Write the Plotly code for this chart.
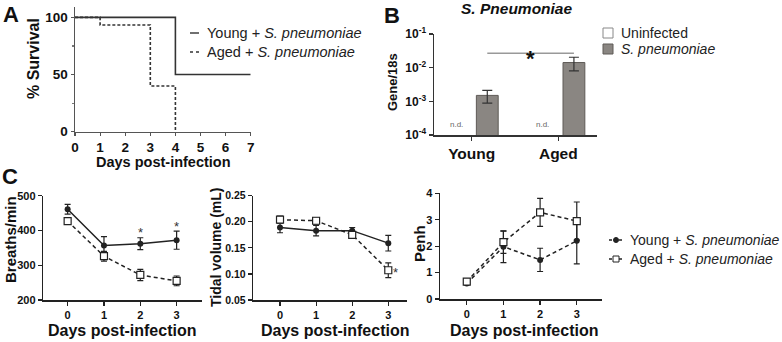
import plotly.graph_objects as go

W, H = 782, 342
FONT = "Liberation Sans, Arial, sans-serif"

# ---------------- data ----------------
# Panel A: survival
surv_young_days = [0, 4, 7]
surv_young_pct = [100, 50, 50]
surv_aged_days = [0, 1, 3, 4]
surv_aged_pct = [100, 93.3, 40, 0]
surv_days_ticks = [0, 1, 2, 3, 4, 5, 6, 7]

# Panel B: bacterial burden
groups = ["Young", "Aged"]
uninfected = [None, None]          # n.d.
spneumo = [1.5e-3, 1.42e-2]
spneumo_err = [0.62e-3, 0.62e-2]
log_ticks = [1e-4, 1e-3, 1e-2, 1e-1]
log_ticktext = ["10<sup>-4</sup>", "10<sup>-3</sup>", "10<sup>-2</sup>", "10<sup>-1</sup>"]

# Panel C: plethysmography
days = [0, 1, 2, 3]
breaths_young = [461, 357, 362, 372]
breaths_young_err = [14, 25, 17, 26]
breaths_aged = [427, 326, 272, 255]
breaths_aged_err = [5, 14, 16, 14]

tidal_young = [0.189, 0.183, 0.183, 0.159]
tidal_young_err = [0.010, 0.010, 0.006, 0.015]
tidal_aged = [0.204, 0.202, 0.175, 0.107]
tidal_aged_err = [0.007, 0.006, 0.006, 0.014]

penh_young = [0.59, 1.98, 1.48, 2.20]
penh_young_err = [0.05, 0.60, 0.44, 0.87]
penh_aged = [0.66, 2.15, 3.28, 2.95]
penh_aged_err = [0.05, 0.42, 0.53, 0.72]


def fx(px):
    return px / W


def fy(py):
    return 1 - py / H


DARK = "#222222"
fig = go.Figure()

# ---------------- Panel A ----------------
fig.add_trace(go.Scatter(x=surv_young_days, y=surv_young_pct, mode="lines",
                         line=dict(shape="hv", color="#333333", width=1.6),
                         xaxis="x", yaxis="y", showlegend=False))
fig.add_trace(go.Scatter(x=surv_aged_days, y=surv_aged_pct, mode="lines",
                         line=dict(shape="hv", color="#333333", width=1.6, dash="3px,2px"),
                         xaxis="x", yaxis="y", showlegend=False))

# ---------------- Panel B ----------------
fig.add_trace(go.Bar(x=groups, y=uninfected, name="Uninfected",
                     marker=dict(color="white", line=dict(color="#888888", width=1)),
                     xaxis="x2", yaxis="y2", showlegend=False))
fig.add_trace(go.Bar(x=groups, y=spneumo, name="S. pneumoniae",
                     marker=dict(color="#8a8682", line=dict(color="#5e5a56", width=1)),
                     error_y=dict(type="data", array=spneumo_err, color="#333333",
                                  thickness=1.2, width=5),
                     xaxis="x2", yaxis="y2", showlegend=False))


# ---------------- Panel C ----------------
def add_pair(xa, ya, yv, ye, av, ae, young_dash):
    fig.add_trace(go.Scatter(x=days, y=yv, mode="lines+markers",
                             line=dict(color=DARK, width=1.5, dash=young_dash),
                             marker=dict(symbol="circle", size=6, color=DARK),
                             error_y=dict(type="data", array=ye, color=DARK, thickness=1.2, width=3),
                             xaxis=xa, yaxis=ya, showlegend=False))
    fig.add_trace(go.Scatter(x=days, y=av, mode="lines+markers",
                             line=dict(color=DARK, width=1.5, dash="4px,3px"),
                             marker=dict(symbol="square", size=7, color="white",
                                         line=dict(color=DARK, width=1.2)),
                             error_y=dict(type="data", array=ae, color=DARK, thickness=1.2, width=3),
                             xaxis=xa, yaxis=ya, showlegend=False))


add_pair("x3", "y3", breaths_young, breaths_young_err, breaths_aged, breaths_aged_err, "solid")
add_pair("x4", "y4", tidal_young, tidal_young_err, tidal_aged, tidal_aged_err, "solid")
add_pair("x5", "y5", penh_young, penh_young_err, penh_aged, penh_aged_err, "4px,3px")


# ---------------- axes ----------------
def ax_common(color, tsize, tlen=4):
    return dict(showline=True, linecolor=color, linewidth=1.5, ticks="outside",
                tickcolor=color, ticklen=tlen, tickwidth=1.2, showgrid=False, zeroline=False,
                automargin=False,
                tickfont=dict(family=FONT, size=tsize, color="#111111", weight="bold"),
                fixedrange=True)


layout = dict(
    xaxis=dict(domain=[fx(75), fx(250.7)], range=[0, 7], anchor="y",
               tickvals=surv_days_ticks, **ax_common("#555555", 13.5, 3)),
    yaxis=dict(domain=[fy(131.7), fy(6.7)], range=[0, 109.3], anchor="x",
               tickvals=[0, 50, 100],
               minor=dict(tickvals=[25, 75], ticks="outside", ticklen=2, tickcolor="#777777"),
               **ax_common("#555555", 13.5, 3)),
    xaxis2=dict(domain=[fx(434), fx(596.7)], type="category", range=[-0.435, 1.443],
                anchor="y2", **ax_common("#333333", 15.5, 4)),
    yaxis2=dict(domain=[fy(135), fy(34)], type="log", range=[-4, -1], anchor="x2",
                tickvals=log_ticks, ticktext=log_ticktext, **ax_common("#333333", 12, 4)),
    xaxis3=dict(domain=[fx(43.3), fx(201.7)], range=[-0.67, 3.69], anchor="y3",
                tickvals=days, **ax_common(DARK, 11)),
    yaxis3=dict(domain=[fy(300), fy(195.7)], range=[200, 500], anchor="x3",
                tickvals=[200, 300, 400, 500], **ax_common(DARK, 11)),
    xaxis4=dict(domain=[fx(253.3), fx(406.7)], range=[-0.74, 3.51], anchor="y4",
                tickvals=days, **ax_common(DARK, 11)),
    yaxis4=dict(domain=[fy(300), fy(195.7)], range=[0.05, 0.25], anchor="x4",
                tickvals=[0.05, 0.10, 0.15, 0.20, 0.25], tickformat=".2f", **ax_common(DARK, 10.5)),
    xaxis5=dict(domain=[fx(440), fx(601.7)], range=[-0.73, 3.68], anchor="y5",
                tickvals=days, **ax_common(DARK, 11)),
    yaxis5=dict(domain=[fy(299), fy(193.3)], range=[0, 4], anchor="x5",
                tickvals=[0, 1, 2, 3, 4], **ax_common(DARK, 11)),
)

annotations = []
shapes = []


def text(px, py, s, size, bold=False, italic=False, angle=0, color="#111111", xanchor="center"):
    annotations.append(dict(x=fx(px), y=fy(py), xref="paper", yref="paper", text=s,
                            showarrow=False, textangle=angle, xanchor=xanchor, yanchor="middle",
                            font=dict(family=FONT, size=size, color=color,
                                      weight="bold" if bold else "normal",
                                      style="italic" if italic else "normal")))


# panel letters
text(11, 14, "A", 22, bold=True)
text(392, 15, "B", 22, bold=True)
text(10, 176, "C", 22, bold=True)

# Panel A titles
text(33, 59, "% Survival", 16, bold=True, angle=-90)
text(163, 162, "Days post-infection", 14.5, bold=True)

# Panel A legend
for py, lab, dash in [(33, "Young + <i>S. pneumoniae</i>", None), (52, "Aged + <i>S. pneumoniae</i>", "dot")]:
    shapes.append(dict(type="line", xref="paper", yref="paper", x0=fx(190), x1=fx(199),
                       y0=fy(py), y1=fy(py), line=dict(color="#333333", width=1.4, dash=dash or "solid")))
    text(205, py, lab, 14.5, xanchor="left", color="#222222")

# Panel B title / axis title / legend
text(516, 8, "<i>S. Pneumoniae</i>", 15.5, bold=True)
text(393, 82, "Gene/18s", 13, bold=True, angle=-90)
legB = [(33, "Uninfected", "white", "#888888"), (49, "<i>S. pneumoniae</i>", "#8a8682", "#5e5a56")]
for py, lab, fill, edge in legB:
    shapes.append(dict(type="rect", xref="paper", yref="paper", x0=fx(603), x1=fx(613),
                       y0=fy(py + 5), y1=fy(py - 5), fillcolor=fill, line=dict(color=edge, width=1)))
    text(619, py, lab, 14, xanchor="left", color="#222222")

# significance bar in B
bar_off = 0.18
shapes.append(dict(type="line", xref="x2", yref="y2 domain", x0=0 + bar_off, x1=1 + bar_off,
                   y0=0.81, y1=0.81, line=dict(color="#999999", width=1.5)))
annotations.append(dict(x=0.5 + bar_off, y=0.90, xref="x2", yref="y2 domain", text="*",
                        showarrow=False, font=dict(family=FONT, size=22, color="#111111", weight="bold")))
for i, g in enumerate(groups):
    annotations.append(dict(x=i - bar_off, y=0.035, xref="x2", yref="y2 domain", text="n.d.",
                            showarrow=False, font=dict(family=FONT, size=8, color="#666666")))

# Panel C titles
text(10, 240, "Breaths/min", 15, bold=True, angle=-90)
text(216, 247, "Tidal volume (mL)", 14, bold=True, angle=-90)
text(419, 243, "Penh", 15, bold=True, angle=-90)
text(122, 330, "Days post-infection", 16, bold=True)
text(335, 330, "Days post-infection", 16, bold=True)
text(524, 330, "Days post-infection", 16, bold=True)

# stars in C
for d in [2, 3]:
    annotations.append(dict(x=d, y=breaths_young[d] + breaths_young_err[d] + 14, xref="x3", yref="y3",
                            text="*", showarrow=False,
                            font=dict(family=FONT, size=13, color="#333333")))
annotations.append(dict(x=3.2, y=tidal_aged[3] - 0.004, xref="x4", yref="y4", text="*", showarrow=False,
                        font=dict(family=FONT, size=13, color="#333333")))

# Panel C legend
for py, lab, sym in [(240, "Young + <i>S. pneumoniae</i>", "circle"), (259, "Aged + <i>S. pneumoniae</i>", "square")]:
    shapes.append(dict(type="line", xref="paper", yref="paper", x0=fx(609), x1=fx(623),
                       y0=fy(py), y1=fy(py), line=dict(color=DARK, width=1.3, dash="3px,2px")))
    if sym == "circle":
        shapes.append(dict(type="circle", xref="paper", yref="paper", x0=fx(613.5), x1=fx(618.5),
                           y0=fy(py + 2.5), y1=fy(py - 2.5), fillcolor=DARK, line=dict(color=DARK, width=1)))
    else:
        shapes.append(dict(type="rect", xref="paper", yref="paper", x0=fx(613), x1=fx(619),
                           y0=fy(py + 3), y1=fy(py - 3), fillcolor="white", line=dict(color=DARK, width=1)))
    text(628, py, lab, 14, xanchor="left", color="#222222")

fig.update_layout(
    template="none",
    width=W, height=H, margin=dict(l=0, r=0, t=0, b=0, autoexpand=False),
    paper_bgcolor="white", plot_bgcolor="white",
    barmode="group", bargap=0.28, bargroupgap=0.3,
    font=dict(family=FONT, color="#111111"),
    annotations=annotations, shapes=shapes, showlegend=False,
    **layout,
)

fig.write_html("out.html", config={"displayModeBar": False, "staticPlot": True},
               post_script="document.body.style.margin='0px';")
